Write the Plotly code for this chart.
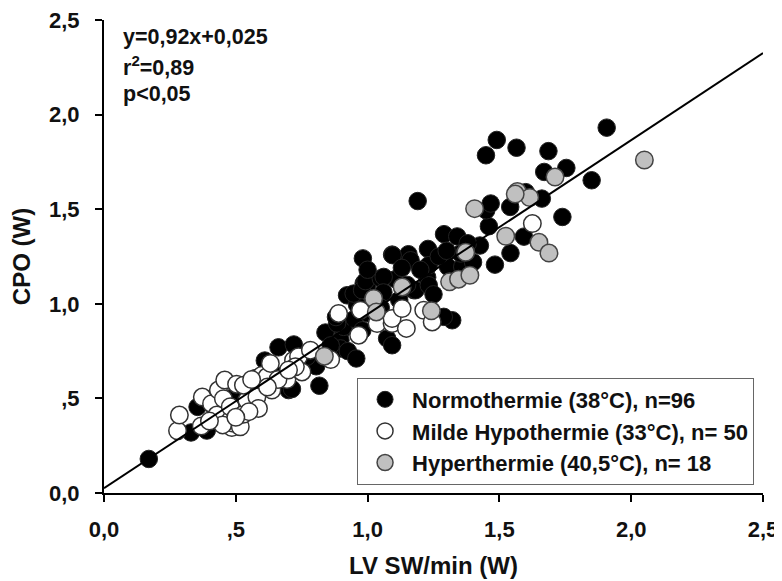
import plotly.graph_objects as go

# ---- data ----
normo_x = [0.17, 0.33, 0.39, 0.355, 0.574, 0.58, 0.662, 0.72, 0.70, 0.713,
           0.805, 0.817, 0.84, 0.905, 0.897, 0.897, 0.925, 0.957, 0.922, 0.985,
           0.998, 0.96, 0.947, 0.979, 0.992, 1.05, 1.106, 1.175, 1.226, 0.982,
           1.093, 1.155, 1.229, 1.163, 1.305, 1.359, 1.074, 1.093, 1.321, 1.289,
           1.29, 1.34, 1.426, 1.353, 1.46, 1.19, 1.45, 1.467, 1.541, 1.661,
           1.739, 1.593, 1.542, 1.483, 1.449, 1.49, 1.565, 1.686, 1.67, 1.754,
           1.85, 1.907, 1.061, 1.182, 1.232, 1.232, 1.095, 0.909, 0.884, 1.60,
           0.62, 0.66, 0.53, 0.45, 0.50, 0.77, 0.86, 0.95, 1.00, 1.02,
           1.06, 1.12, 1.15, 1.20, 1.27, 1.25, 1.38, 1.40, 1.05, 0.98,
           0.88, 1.13, 1.00, 1.30, 0.42, 0.61]
normo_y = [0.18, 0.32, 0.33, 0.455, 0.607, 0.58, 0.77, 0.785, 0.544, 0.55,
           0.67, 0.567, 0.848, 0.865, 0.808, 0.764, 0.75, 0.711, 1.045, 1.107,
           1.098, 0.995, 1.054, 1.072, 1.12, 1.134, 1.13, 1.072, 1.14, 1.24,
           1.26, 1.262, 1.29, 1.23, 1.195, 1.195, 0.817, 0.781, 0.913, 0.931,
           1.368, 1.356, 1.308, 1.266, 1.41, 1.543, 1.494, 1.53, 1.512, 1.556,
           1.459, 1.355, 1.268, 1.207, 1.785, 1.866, 1.825, 1.807, 1.697, 1.718,
           1.653, 1.931, 1.142, 1.072, 1.098, 1.204, 1.257, 0.878, 0.896, 1.59,
           0.64, 0.62, 0.53, 0.40, 0.52, 0.72, 0.78, 0.92, 0.95, 1.02,
           1.06, 1.02, 1.10, 1.18, 1.25, 1.05, 1.32, 1.22, 0.98, 0.86,
           0.93, 1.19, 1.18, 1.28, 0.45, 0.70]

hypo_x = [0.279, 0.286, 0.369, 0.373, 0.408, 0.428, 0.434, 0.453, 0.458, 0.479,
          0.479, 0.485, 0.491, 0.503, 0.517, 0.529, 0.542, 0.58, 0.586, 0.599,
          0.618, 0.631, 0.637, 0.694, 0.719, 0.738, 0.751, 0.726, 0.783, 0.86,
          0.529, 0.89, 0.966, 1.036, 1.093, 1.093, 1.131, 1.147, 1.213, 1.245,
          1.625, 0.973, 0.66, 0.55, 0.45, 0.50, 0.62, 0.70, 0.40, 0.56]
hypo_y = [0.329, 0.412, 0.354, 0.507, 0.472, 0.412, 0.544, 0.498, 0.597, 0.385,
          0.456, 0.346, 0.368, 0.575, 0.35, 0.416, 0.491, 0.508, 0.447, 0.623,
          0.614, 0.685, 0.544, 0.60, 0.702, 0.72, 0.64, 0.667, 0.755, 0.705,
          0.57, 0.949, 0.834, 0.896, 0.896, 0.922, 0.975, 0.87, 0.966, 0.904,
          1.424, 0.966, 0.60, 0.43, 0.36, 0.40, 0.56, 0.65, 0.38, 0.60]

hyper_x = [0.836, 1.023, 1.033, 1.131, 1.242, 1.311, 1.345, 1.388, 1.372, 1.406,
           1.524, 1.568, 1.615, 1.650, 1.688, 1.711, 2.05, 1.56]
hyper_y = [0.723, 1.028, 0.957, 1.089, 0.963, 1.116, 1.13, 1.151, 1.272, 1.503,
           1.357, 1.594, 1.562, 1.325, 1.268, 1.67, 1.76, 1.58]

fit_slope = 0.92
fit_intercept = 0.025
fit_x = [0.0, 2.5]

tick_vals = [0.0, 0.5, 1.0, 1.5, 2.0, 2.5]
tick_text = ["0,0", ",5", "1,0", "1,5", "2,0", "2,5"]

names = ["Normothermie (38°C), n=96",
         "Milde Hypothermie (33°C), n= 50",
         "Hyperthermie (40,5°C), n= 18"]

# ---- figure ----
FONT = "Liberation Sans, Arial, sans-serif"
INK = "#111111"
fig = go.Figure()
fig.add_trace(go.Scatter(x=normo_x, y=normo_y, mode="markers", name=names[0],
                         marker=dict(size=17.5, color="black",
                                     line=dict(color="#222222", width=1))))
fig.add_trace(go.Scatter(x=hypo_x, y=hypo_y, mode="markers", name=names[1],
                         marker=dict(size=17.5, color="white",
                                     line=dict(color="#333333", width=1.5))))
fig.add_trace(go.Scatter(x=hyper_x, y=hyper_y, mode="markers", name=names[2],
                         marker=dict(size=17.5, color="#c0c0c0",
                                     line=dict(color="#444444", width=1.5))))
fig.add_trace(go.Scatter(x=fit_x, y=[fit_slope * v + fit_intercept for v in fit_x],
                         mode="lines", line=dict(color="black", width=2),
                         showlegend=False, hoverinfo="skip"))

axis_common = dict(range=[0, 2.5], tickvals=tick_vals, ticktext=tick_text,
                   showline=True, linecolor="black", linewidth=2,
                   ticks="outside", ticklen=7, tickwidth=2, tickcolor="black",
                   showgrid=False, zeroline=False, automargin=False,
                   ticklabeloverflow="allow",
                   tickfont=dict(family=FONT, size=22, color=INK, weight="bold"))

# the page body has an 8px default margin, so the figure is 8px smaller
fig.update_layout(
    width=774, height=573,
    margin=dict(l=96, r=19, t=12, b=88),
    paper_bgcolor="white", plot_bgcolor="white",
    font=dict(family=FONT, size=22, color=INK, weight="bold"),
    xaxis=dict(**axis_common, ticklabelstandoff=9,
               title=dict(text="LV SW/min (W)", standoff=16,
                          font=dict(family=FONT, size=24, color=INK, weight="bold"))),
    yaxis=dict(**axis_common, ticklabelstandoff=11,
               title=dict(text="CPO (W)", standoff=18,
                          font=dict(family=FONT, size=24, color=INK, weight="bold"))),
    legend=dict(x=0.384, y=0.131, xanchor="left", yanchor="middle",
                bordercolor="#666666", borderwidth=1, bgcolor="white",
                font=dict(family=FONT, size=22, color=INK, weight="bold"),
                itemwidth=44),
    showlegend=True,
)

ann_lines = ["y=0,92x+0,025", "r<sup>2</sup>=0,89", "p<0,05"]
ann_y = [0.964, 0.903, 0.844]
for t, yy in zip(ann_lines, ann_y):
    fig.add_annotation(text=t, xref="paper", yref="paper", x=0.026, y=yy,
                       xanchor="left", yanchor="middle", showarrow=False,
                       font=dict(family=FONT, size=21.5, color=INK, weight="bold"))

fig.write_html("out.html")
